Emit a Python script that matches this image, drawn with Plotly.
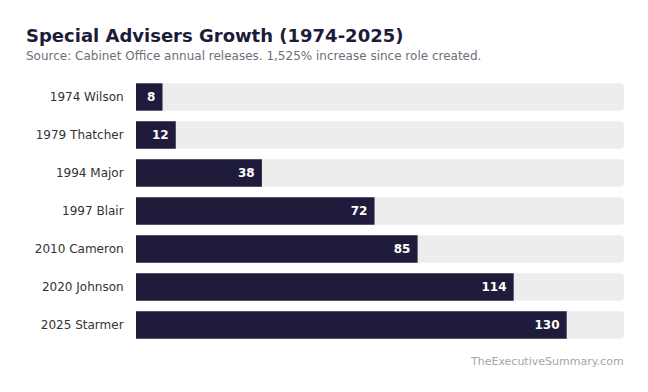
import plotly.graph_objects as go

categories = ["1974 Wilson", "1979 Thatcher", "1994 Major", "1997 Blair",
              "2010 Cameron", "2020 Johnson", "2025 Starmer"]
advisers = [8, 12, 38, 72, 85, 114, 130]
scale_max = 147.3  # full length of the grey track

title = "Special Advisers Growth (1974-2025)"
subtitle = "Source: Cabinet Office annual releases. 1,525% increase since role created."
footer = "TheExecutiveSummary.com"

NAVY = "#1f1c3b"
TRACK = "#ededed"
FONT = "DejaVu Sans"

fig = go.Figure()
fig.add_trace(go.Bar(
    y=categories, x=[scale_max] * len(categories), orientation="h",
    marker=dict(color=TRACK, cornerradius=4, line=dict(width=0)),
    width=0.72, hoverinfo="skip", showlegend=False,
))
fig.add_trace(go.Bar(
    y=categories, x=advisers, orientation="h",
    marker=dict(color=NAVY, cornerradius=4, line=dict(width=0)),
    width=0.72,
    text=[f"{v}\u00a0" for v in advisers],
    textposition="inside", insidetextanchor="end",
    textfont=dict(family=FONT, size=12, color="white", weight="bold"),
    showlegend=False,
))

W, H = 648, 392
ml, mr, mt, mb = 136, 24, 78, 48
pw, ph = W - ml - mr, H - mt - mb

def px(x):
    return (x - ml) / pw

def py(y):
    return (H - mb - y) / ph

annotations = [
    dict(text=f"<b>{title}</b>", x=px(23.5), y=py(35), xref="paper", yref="paper",
         xanchor="left", yanchor="middle", showarrow=False,
         font=dict(family=FONT, size=18, color="#1e1b3a")),
    dict(text=subtitle, x=px(23.5), y=py(56), xref="paper", yref="paper",
         xanchor="left", yanchor="middle", showarrow=False,
         font=dict(family=FONT, size=12, color="#6e6e7a")),
    dict(text=footer, x=px(626), y=py(361), xref="paper", yref="paper",
         xanchor="right", yanchor="middle", showarrow=False,
         font=dict(family=FONT, size=11, color="#a4a4ad")),
]

fig.update_layout(
    width=W, height=H,
    margin=dict(l=ml, r=mr, t=mt, b=mb),
    paper_bgcolor="white", plot_bgcolor="white",
    barmode="overlay",
    uniformtext=dict(minsize=12, mode="show"),
    annotations=annotations,
    font=dict(family=FONT, size=12, color="#333333"),
    xaxis=dict(range=[0, scale_max], visible=False, fixedrange=True),
    yaxis=dict(autorange="reversed", showgrid=False, zeroline=False,
               showline=False, ticks="outside", ticklen=9, tickcolor="rgba(0,0,0,0)",
               tickfont=dict(family=FONT, size=12, color="#333333"), fixedrange=True),
)

fig.write_html(
    "out.html",
    config={"displayModeBar": False},
    post_script="document.body.style.margin='0';document.body.style.overflow='hidden';",
)
